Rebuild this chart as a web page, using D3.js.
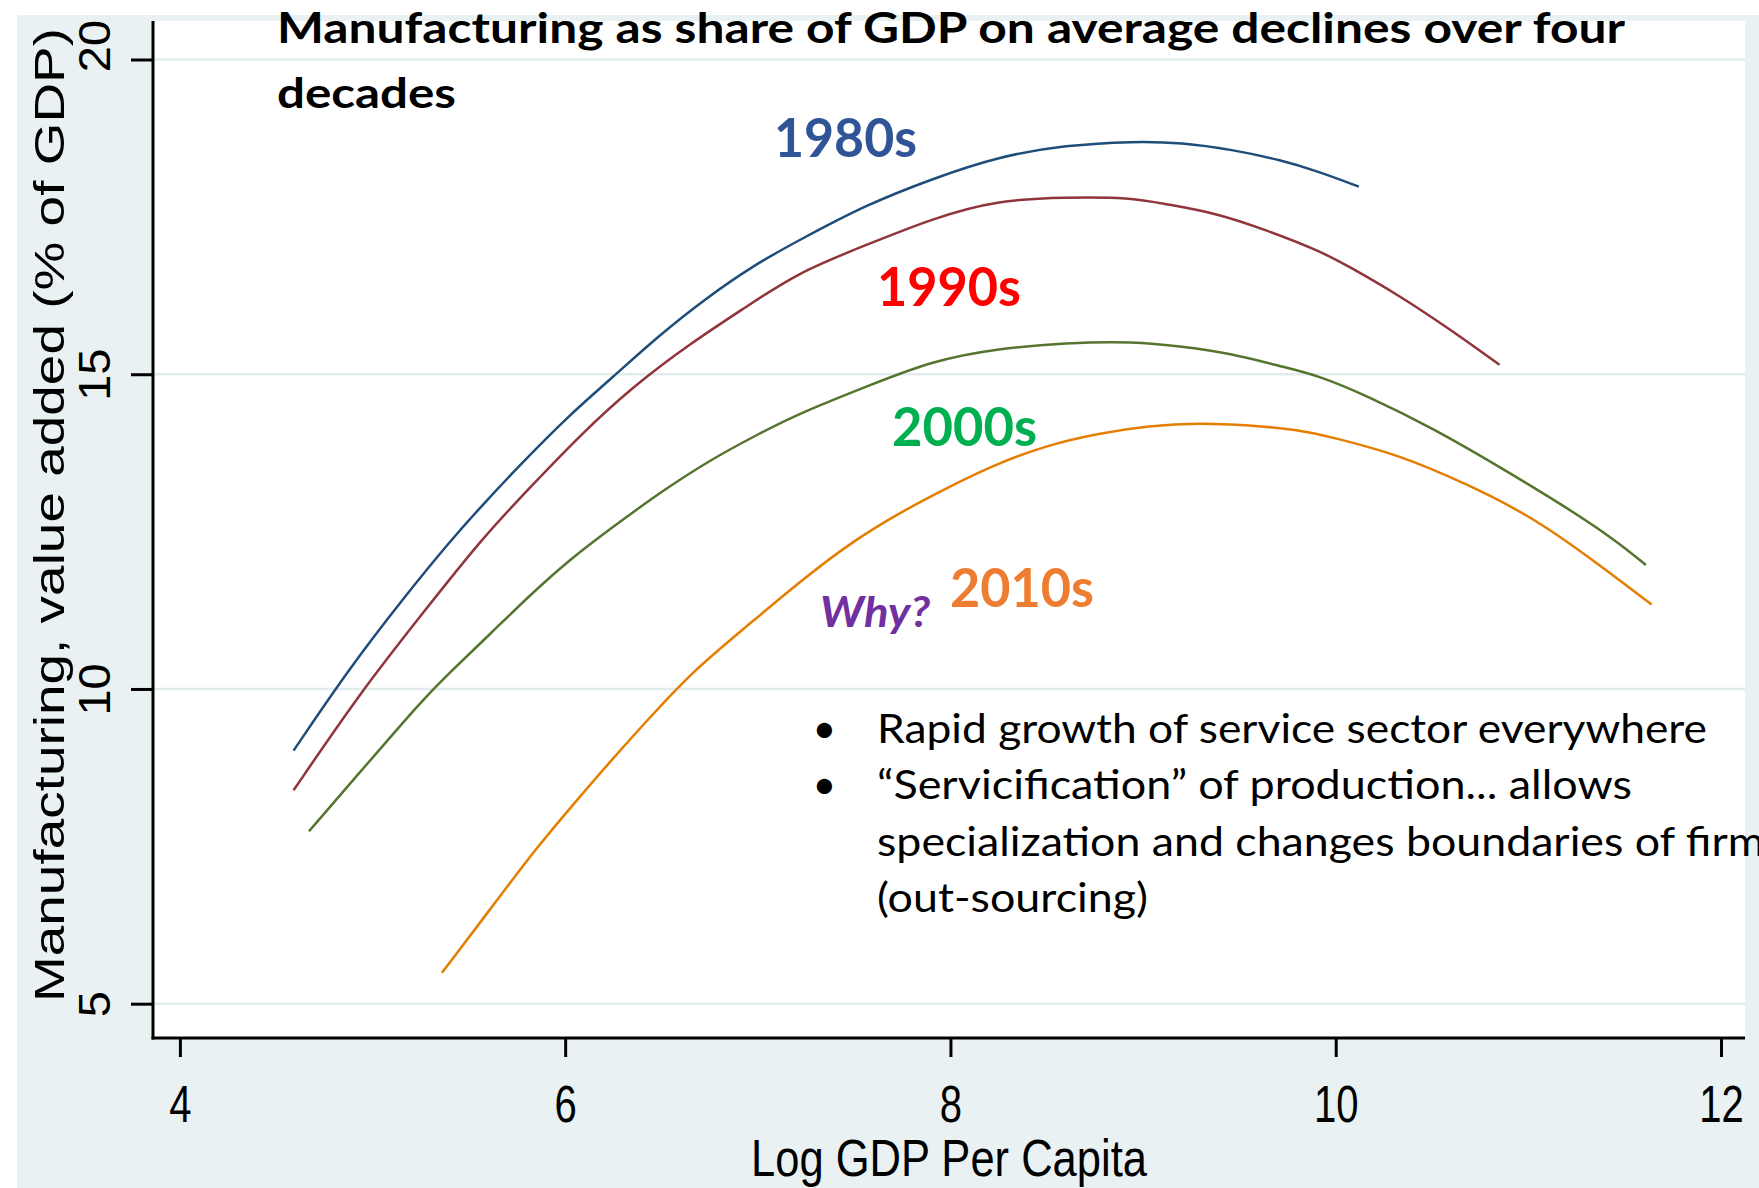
<!DOCTYPE html>
<html>
<head>
<meta charset="utf-8">
<script src="https://cdn.jsdelivr.net/npm/d3@7"></script>
<style>
  html, body { margin: 0; padding: 0; background: #ffffff; overflow: hidden; }
  svg { display: block; }
</style>
</head>
<body>
<svg id="chart" width="1759" height="1188"></svg>
<script>
// Fitted manufacturing share of GDP against log GDP per capita, one curve per decade
const gdp1980s = [4.59, 4.88, 5.16, 5.40, 5.57, 5.75, 6.02, 6.25, 6.47, 6.73, 7.01, 7.21, 7.56, 7.91, 8.25, 8.60, 8.95, 9.20, 9.46, 9.72, 9.91, 10.12];
const mfg1980s = [9.02, 10.33, 11.44, 12.34, 12.92, 13.51, 14.35, 14.96, 15.57, 16.21, 16.79, 17.12, 17.69, 18.11, 18.46, 18.64, 18.70, 18.68, 18.57, 18.40, 18.22, 17.98];

const gdp1990s = [4.59, 4.94, 5.26, 5.57, 5.83, 6.08, 6.35, 6.65, 6.94, 7.21, 7.56, 7.91, 8.25, 8.60, 8.93, 9.12, 9.38, 9.64, 9.91, 10.07, 10.33, 10.59, 10.85];
const mfg1990s = [8.39, 9.96, 11.20, 12.40, 13.24, 14.04, 14.80, 15.49, 16.07, 16.62, 17.05, 17.48, 17.77, 17.81, 17.81, 17.70, 17.56, 17.29, 16.97, 16.71, 16.25, 15.72, 15.15];

const gdp2000s = [4.67, 4.93, 5.26, 5.38, 5.63, 5.80, 6.02, 6.25, 6.51, 6.77, 7.01, 7.21, 7.56, 7.91, 8.25, 8.60, 8.95, 9.20, 9.46, 9.72, 9.91, 10.16, 10.50, 10.85, 11.19, 11.45, 11.61];
const mfg2000s = [7.74, 8.66, 9.83, 10.20, 10.93, 11.44, 12.05, 12.58, 13.16, 13.67, 14.06, 14.37, 14.80, 15.22, 15.41, 15.50, 15.52, 15.44, 15.33, 15.12, 14.98, 14.66, 14.15, 13.53, 12.90, 12.37, 11.97];

const gdp2010s = [5.36, 5.66, 5.85, 6.04, 6.24, 6.42, 6.65, 6.94, 7.22, 7.48, 7.73, 7.99, 8.25, 8.51, 8.77, 9.03, 9.29, 9.55, 9.81, 9.98, 10.33, 10.67, 11.02, 11.37, 11.64];
const mfg2010s = [5.49, 6.70, 7.47, 8.16, 8.87, 9.48, 10.25, 10.99, 11.71, 12.32, 12.79, 13.21, 13.59, 13.88, 14.06, 14.18, 14.23, 14.19, 14.12, 14.00, 13.72, 13.27, 12.74, 11.97, 11.34];

const decades = ["1980s", "1990s", "2000s", "2010s"];
const xTicks = [4, 6, 8, 10, 12];
const yTicks = [5, 10, 15, 20];

const xTitle = "Log GDP Per Capita";
const yTitle = "Manufacturing, value added (% of GDP)";
const titleLines = ["Manufacturing as share of GDP on average declines over four", "decades"];
const questionText = "Why?";
const bulletLines = [
  { bullet: true,  text: "Rapid growth of service sector everywhere" },
  { bullet: true,  text: "\u201CServicification\u201D of production... allows" },
  { bullet: false, text: "specialization and changes boundaries of firms" },
  { bullet: false, text: "(out-sourcing)" }
];

// ---- layout ----
const svg = d3.select("#chart");
const W = 1759, H = 1188;
const plot = { left: 153, right: 1745, top: 21, bottom: 1038 };

const x = d3.scaleLinear().domain([4, 12]).range([179.9, 1721]);
const y = d3.scaleLinear().domain([5, 20]).range([1003.7, 59.5]);

const series = [
  { name: decades[0], xs: gdp1980s, ys: mfg1980s, line: "#1f4d7a", label: "#2F5597", lx: 774, ly: 157, lw: 143 },
  { name: decades[1], xs: gdp1990s, ys: mfg1990s, line: "#90353b", label: "#FF0000", lx: 877, ly: 306, lw: 144 },
  { name: decades[2], xs: gdp2000s, ys: mfg2000s, line: "#55752f", label: "#00B050", lx: 892, ly: 446, lw: 145 },
  { name: decades[3], xs: gdp2010s, ys: mfg2010s, line: "#e37e00", label: "#ED7D31", lx: 950, ly: 607, lw: 144 }
];

// backgrounds: graph region and plot region
svg.append("rect").attr("x", 0).attr("y", 0).attr("width", W).attr("height", H).attr("fill", "#ffffff");
svg.append("rect").attr("x", 17).attr("y", 15).attr("width", W - 17).attr("height", H - 15).attr("fill", "#e9f1f3");
svg.append("rect").attr("x", plot.left).attr("y", plot.top)
  .attr("width", plot.right - plot.left).attr("height", plot.bottom - plot.top).attr("fill", "#ffffff");

// horizontal grid lines
svg.append("g").selectAll("line").data(yTicks).join("line")
  .attr("x1", plot.left + 2).attr("x2", plot.right)
  .attr("y1", d => y(d)).attr("y2", d => y(d))
  .attr("stroke", "#e2ecef").attr("stroke-width", 2.5);

// curves (B-spline through the sampled fit values)
const line = d3.line().x(d => x(d[0])).y(d => y(d[1])).curve(d3.curveBasis);
svg.append("g").selectAll("path").data(series).join("path")
  .attr("d", s => line(d3.zip(s.xs, s.ys)))
  .attr("fill", "none")
  .attr("stroke", s => s.line)
  .attr("stroke-width", 2.5)
  .attr("stroke-linejoin", "round");

// axes
const axisFont = "'Liberation Sans', Arial, sans-serif";

const yAxis = svg.append("g").attr("transform", `translate(${plot.left},0)`)
  .call(d3.axisLeft(y).tickValues(yTicks).tickSize(22).tickSizeOuter(0).tickFormat(d3.format("d")));
yAxis.select(".domain").remove();
yAxis.selectAll(".tick line").attr("stroke", "#000").attr("stroke-width", 3);
yAxis.selectAll(".tick text")
  .attr("x", null).attr("dy", null)
  .attr("fill", "#000")
  .attr("font-family", axisFont).attr("font-size", 47)
  .attr("text-anchor", "middle")
  .attr("transform", d => `translate(-43,${d === 20 ? -14 : 0}) rotate(-90) scale(1,0.93)`);

const xAxis = svg.append("g").attr("transform", `translate(0,${plot.bottom})`)
  .call(d3.axisBottom(x).tickValues(xTicks).tickSize(19).tickSizeOuter(0).tickFormat(d3.format("d")));
xAxis.select(".domain").remove();
xAxis.selectAll(".tick line").attr("stroke", "#000").attr("stroke-width", 3);
xAxis.selectAll(".tick text")
  .attr("y", null).attr("dy", null)
  .attr("fill", "#000")
  .attr("font-family", axisFont).attr("font-size", 52)
  .attr("text-anchor", "middle")
  .attr("transform", "translate(0,84) scale(0.77,1)");

// axis lines
svg.append("line").attr("x1", plot.left).attr("x2", plot.left)
  .attr("y1", plot.top).attr("y2", plot.bottom + 1.5)
  .attr("stroke", "#000").attr("stroke-width", 3);
svg.append("line").attr("x1", plot.left - 1.5).attr("x2", plot.right)
  .attr("y1", plot.bottom).attr("y2", plot.bottom)
  .attr("stroke", "#000").attr("stroke-width", 3);

// axis titles
svg.append("text")
  .attr("x", 949).attr("y", 1176)
  .attr("text-anchor", "middle")
  .attr("font-family", axisFont).attr("font-size", 52).attr("fill", "#000")
  .attr("textLength", 396).attr("lengthAdjust", "spacingAndGlyphs")
  .text(xTitle);

svg.append("text")
  .attr("transform", "translate(63.5,515) rotate(-90) scale(1,0.8)")
  .attr("text-anchor", "middle")
  .attr("font-family", axisFont).attr("font-size", 53).attr("fill", "#000")
  .attr("textLength", 974).attr("lengthAdjust", "spacingAndGlyphs")
  .text(yTitle);

// slide annotations
const slideFont = "Lato, 'Open Sans', sans-serif";

const titleSpec = [
  { text: titleLines[0], x: 277, y: 43, w: 1348 },
  { text: titleLines[1], x: 277, y: 108, w: 179 }
];
svg.append("g").selectAll("text").data(titleSpec).join("text")
  .attr("x", d => d.x).attr("y", d => d.y)
  .attr("font-family", slideFont).attr("font-weight", 700).attr("font-size", 42)
  .attr("fill", "#000")
  .attr("textLength", d => d.w).attr("lengthAdjust", "spacingAndGlyphs")
  .text(d => d.text);

// decade labels
svg.append("g").selectAll("text").data(series).join("text")
  .attr("x", s => s.lx).attr("y", s => s.ly)
  .attr("font-family", slideFont).attr("font-weight", 700).attr("font-size", 53)
  .attr("fill", s => s.label)
  .attr("textLength", s => s.lw).attr("lengthAdjust", "spacingAndGlyphs")
  .text(s => s.name);

svg.append("text")
  .attr("x", 820).attr("y", 627)
  .attr("font-family", slideFont).attr("font-weight", 700).attr("font-style", "italic")
  .attr("font-size", 42).attr("fill", "#7030A0")
  .attr("textLength", 110).attr("lengthAdjust", "spacingAndGlyphs")
  .text(questionText);

// bullet list
const bulletTop = 742.7, bulletStep = 56.4, textX = 877;
const bulletWidths = [830, 755, null, 271];
const bl = svg.append("g")
  .attr("font-family", slideFont).attr("font-size", 41).attr("fill", "#000");
const lineTexts = bl.selectAll("text.line").data(bulletLines).join("text")
  .attr("class", "line")
  .attr("x", textX).attr("y", (d, i) => bulletTop + i * bulletStep)
  .text(d => d.text);

// fit measured lines to their widths; scale the unmeasured one by the mean ratio
const natural = lineTexts.nodes().map(n => n.getComputedTextLength());
const ratios = bulletWidths.map((w, i) => w ? w / natural[i] : null).filter(r => r);
const meanRatio = d3.mean(ratios);
lineTexts
  .attr("textLength", (d, i) => bulletWidths[i] || natural[i] * meanRatio)
  .attr("lengthAdjust", "spacingAndGlyphs");

bl.selectAll("text.dot").data(bulletLines.filter(d => d.bullet)).join("text")
  .attr("class", "dot")
  .attr("x", 824.5).attr("y", (d, i) => bulletTop + i * bulletStep)
  .attr("text-anchor", "middle")
  .text("\u2022");
</script>
</body>
</html>
